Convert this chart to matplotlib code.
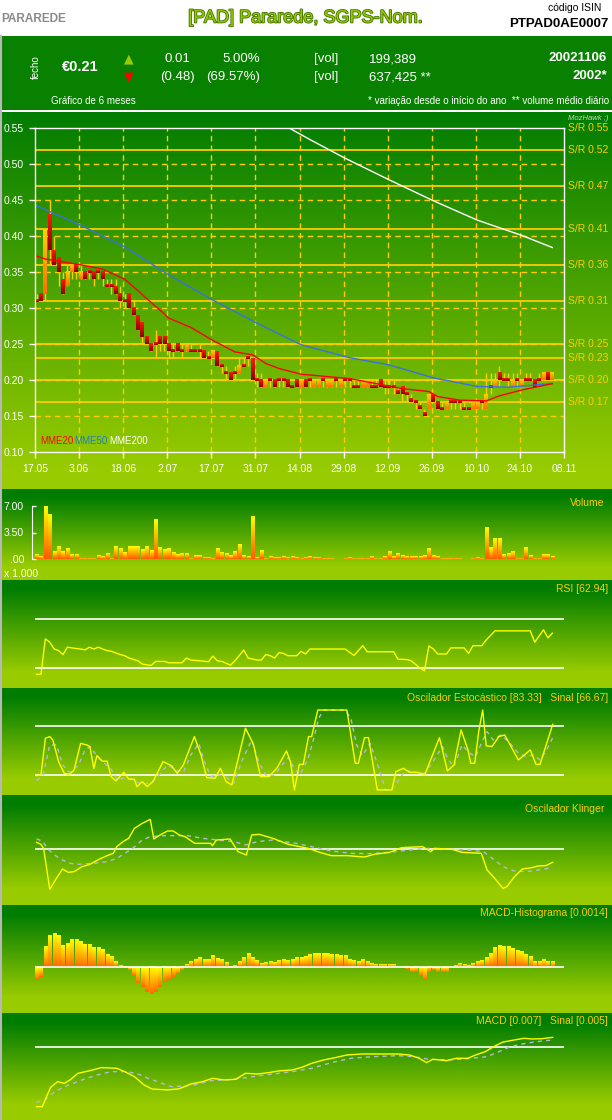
import numpy as np
import matplotlib
matplotlib.use('Agg')
import matplotlib.pyplot as plt
import matplotlib.patheffects as pe
from matplotlib.colors import to_rgb
from matplotlib.lines import Line2D

plt.rcParams['font.family'] = ['Liberation Sans Narrow', 'Liberation Sans', 'DejaVu Sans']

W, H = 612, 1120

# ---- price data (daily candles, 17.05 -> 06.11) ----
opens = [0.31, 0.32, 0.32, 0.43, 0.38, 0.37, 0.34, 0.33, 0.35, 0.36,
         0.34, 0.35, 0.35, 0.35, 0.35, 0.35, 0.33, 0.33, 0.33, 0.32,
         0.31, 0.32, 0.30, 0.29, 0.28, 0.26, 0.25, 0.25, 0.26, 0.26,
         0.25, 0.24, 0.25, 0.24, 0.24, 0.24, 0.24, 0.24, 0.24, 0.23,
         0.23, 0.24, 0.22, 0.21, 0.21, 0.21, 0.21, 0.22, 0.23, 0.23,
         0.20, 0.20, 0.19, 0.20, 0.20, 0.20, 0.20, 0.20, 0.19, 0.20,
         0.19, 0.20, 0.20, 0.19, 0.19, 0.20, 0.19, 0.19, 0.20, 0.19,
         0.20, 0.20, 0.19, 0.19, 0.19, 0.19, 0.19, 0.19, 0.20, 0.19,
         0.19, 0.19, 0.185, 0.19, 0.18, 0.175, 0.17, 0.165, 0.155, 0.16,
         0.18, 0.17, 0.16, 0.16, 0.17, 0.17, 0.17, 0.16, 0.16, 0.16,
         0.16, 0.17, 0.16, 0.19, 0.19, 0.21, 0.20, 0.20, 0.19, 0.20,
         0.19, 0.20, 0.20, 0.20, 0.20, 0.20, 0.21, 0.20]
closes = [0.31, 0.31, 0.41, 0.38, 0.36, 0.35, 0.32, 0.35, 0.36, 0.35,
          0.35, 0.34, 0.35, 0.34, 0.35, 0.34, 0.33, 0.33, 0.32, 0.31,
          0.31, 0.30, 0.29, 0.27, 0.26, 0.25, 0.24, 0.25, 0.25, 0.25,
          0.24, 0.24, 0.24, 0.24, 0.25, 0.24, 0.24, 0.24, 0.23, 0.23,
          0.24, 0.22, 0.22, 0.21, 0.20, 0.21, 0.22, 0.22, 0.23, 0.20,
          0.20, 0.19, 0.20, 0.20, 0.19, 0.20, 0.20, 0.19, 0.19, 0.19,
          0.20, 0.19, 0.20, 0.20, 0.20, 0.20, 0.20, 0.20, 0.20, 0.20,
          0.20, 0.20, 0.19, 0.19, 0.20, 0.20, 0.19, 0.19, 0.19, 0.19,
          0.19, 0.19, 0.18, 0.18, 0.18, 0.17, 0.17, 0.16, 0.15, 0.18,
          0.17, 0.16, 0.16, 0.17, 0.17, 0.17, 0.17, 0.16, 0.16, 0.17,
          0.17, 0.17, 0.18, 0.19, 0.20, 0.20, 0.20, 0.20, 0.20, 0.20,
          0.20, 0.20, 0.20, 0.19, 0.20, 0.21, 0.20, 0.21]
highs = [0.32, 0.32, 0.41, 0.45, 0.40, 0.37, 0.35, 0.36, 0.36, 0.36,
         0.36, 0.35, 0.35, 0.35, 0.35, 0.35, 0.34, 0.34, 0.34, 0.33,
         0.32, 0.32, 0.31, 0.29, 0.28, 0.26, 0.25, 0.27, 0.26, 0.26,
         0.25, 0.25, 0.25, 0.25, 0.25, 0.25, 0.24, 0.25, 0.24, 0.24,
         0.24, 0.24, 0.22, 0.22, 0.21, 0.22, 0.23, 0.23, 0.23, 0.23,
         0.21, 0.21, 0.20, 0.20, 0.20, 0.20, 0.20, 0.20, 0.19, 0.20,
         0.20, 0.20, 0.20, 0.20, 0.20, 0.20, 0.20, 0.20, 0.20, 0.20,
         0.20, 0.20, 0.20, 0.20, 0.20, 0.20, 0.20, 0.20, 0.20, 0.20,
         0.20, 0.20, 0.19, 0.19, 0.18, 0.18, 0.17, 0.17, 0.16, 0.18,
         0.18, 0.17, 0.17, 0.17, 0.17, 0.17, 0.17, 0.17, 0.16, 0.17,
         0.17, 0.17, 0.21, 0.21, 0.21, 0.22, 0.21, 0.21, 0.21, 0.21,
         0.20, 0.21, 0.21, 0.20, 0.21, 0.21, 0.21, 0.21]
lows = [0.31, 0.31, 0.31, 0.36, 0.36, 0.33, 0.32, 0.33, 0.34, 0.34,
        0.34, 0.34, 0.34, 0.33, 0.34, 0.33, 0.33, 0.32, 0.32, 0.30,
        0.30, 0.30, 0.29, 0.27, 0.25, 0.25, 0.24, 0.23, 0.24, 0.24,
        0.23, 0.23, 0.24, 0.23, 0.24, 0.24, 0.24, 0.23, 0.23, 0.23,
        0.23, 0.22, 0.21, 0.20, 0.20, 0.20, 0.21, 0.22, 0.22, 0.20,
        0.19, 0.19, 0.19, 0.19, 0.19, 0.19, 0.19, 0.19, 0.19, 0.19,
        0.19, 0.19, 0.19, 0.19, 0.19, 0.19, 0.19, 0.19, 0.19, 0.19,
        0.19, 0.19, 0.19, 0.19, 0.19, 0.19, 0.19, 0.19, 0.19, 0.18,
        0.19, 0.18, 0.18, 0.17, 0.17, 0.17, 0.16, 0.16, 0.15, 0.16,
        0.17, 0.16, 0.16, 0.16, 0.16, 0.16, 0.16, 0.16, 0.16, 0.16,
        0.16, 0.16, 0.16, 0.18, 0.19, 0.19, 0.20, 0.19, 0.19, 0.19,
        0.19, 0.20, 0.20, 0.19, 0.20, 0.20, 0.20, 0.20]

date_labels = ['17.05', '3.06', '18.06', '2.07', '17.07', '31.07', '14.08',
               '29.08', '12.09', '26.09', '10.10', '24.10', '08.11']
price_ticks = [0.10, 0.15, 0.20, 0.25, 0.30, 0.35, 0.40, 0.45, 0.50, 0.55]
sr_levels = [0.55, 0.52, 0.47, 0.41, 0.36, 0.31, 0.25, 0.23, 0.20, 0.17]

mme20_days = [0, 2, 5, 10, 15, 20, 23, 25, 28, 30, 35, 40, 45, 49, 52, 55, 60,
              71, 83, 89, 91, 96, 102, 105, 110, 117]
mme20_vals = [0.372, 0.368, 0.365, 0.360, 0.354, 0.340, 0.324, 0.313, 0.297, 0.286,
              0.273, 0.255, 0.239, 0.235, 0.223, 0.216, 0.208,
              0.202, 0.188, 0.184, 0.177, 0.172, 0.171, 0.178, 0.186, 0.195]
mme50_days = [0, 10, 20, 30, 40, 50, 60, 71, 80, 90, 100, 107, 113, 117]
mme50_vals = [0.442, 0.415, 0.385, 0.346, 0.311, 0.279, 0.249, 0.231, 0.221, 0.203,
              0.191, 0.190, 0.193, 0.195]
mme200_days = [57, 62, 70, 80, 90, 100, 110, 117]
mme200_vals = [0.551, 0.534, 0.508, 0.478, 0.449, 0.422, 0.401, 0.384]

# ---- volume (x 1.000) ----
volume = [0.6, 0.3, 7.0, 5.9, 1.0, 1.6, 1.0, 1.4, 0.6, 0.6,
          0.1, 0.1, 0.1, 0.1, 0.4, 0.3, 0.7, 0.1, 1.7, 1.4,
          0.9, 1.6, 1.7, 1.7, 1.2, 1.7, 1.1, 5.2, 1.5, 1.2,
          1.4, 0.9, 0.6, 0.7, 0.7, 0.1, 0.4, 0.4, 0.2, 0.2,
          0.1, 1.4, 0.9, 0.7, 0.4, 1.0, 1.9, 0.4, 0.3, 5.6,
          0.2, 1.1, 0.1, 0.3, 0.2, 0.2, 0.3, 0.2, 0.3, 0.2,
          0.1, 0.2, 0.3, 0.2, 0.2, 0.1, 0.1, 0.1, 0.0, 0.0,
          0.1, 0.2, 0.1, 0.1, 0.1, 0.1, 0.3, 0.1, 0.1, 0.3,
          1.0, 0.3, 0.7, 0.4, 0.3, 0.3, 0.3, 0.3, 0.4, 1.4,
          0.5, 0.35, 0.1, 0.1, 0.1, 0.1, 0.1, 0.0, 0.0, 0.1,
          0.2, 0.1, 4.2, 1.5, 2.7, 2.7, 0.6, 0.7, 1.0, 0.1,
          0.1, 1.5, 0.4, 0.1, 0.1, 0.6, 0.6, 0.3]

# ---- RSI ----
rsi_days = [0, 1, 2, 3, 4, 5, 6, 7, 8, 10, 11, 12, 13, 14, 15, 16, 17, 19, 20, 21,
            23, 24, 26, 27, 29, 30, 33, 34, 35, 37, 39, 40, 41, 42, 44, 45, 46, 47,
            48, 50, 51, 52, 53, 54, 55, 56, 57, 59, 60, 61, 62, 70, 72, 74, 75, 81,
            82, 84, 85, 87, 88, 89, 90, 91, 93, 94, 97, 98, 99, 101, 102, 104, 112,
            113, 115, 116, 117]
rsi_vals = [25.0, 25.1, 53.7, 51.0, 45.5, 44.2, 41.0, 47.0, 46.4, 45.5, 44.8, 47.0,
            45.5, 47.0, 45.5, 44.2, 43.6, 41.0, 40.1, 38.2, 36.0, 33.3, 32.2, 35.5,
            35.5, 34.4, 34.4, 38.2, 36.6, 36.0, 35.2, 39.8, 36.0, 35.5, 32.5, 36.0,
            40.3, 44.7, 38.2, 36.6, 36.6, 41.0, 40.1, 38.2, 42.6, 42.0, 40.1, 40.1,
            43.6, 41.5, 45.5, 45.5, 40.3, 48.2, 43.3, 43.3, 37.3, 37.0, 36.0, 30.0,
            27.8, 48.0, 45.5, 41.5, 41.5, 46.4, 46.4, 42.0, 48.2, 48.2, 52.8, 60.2,
            60.2, 51.0, 61.0, 54.5, 58.3]

# ---- Stochastic ----
stoch_days = [0, 1, 2, 3, 3.7, 5, 6.3, 7.5, 8.5, 10, 11.4, 12.1, 13, 13.7, 14.9, 16,
              16.9, 18, 19.8, 20.9, 22.2, 22.8, 24, 25.1, 26.4, 28.7, 30.6, 31.9,
              33.3, 35.8, 37.3, 38.6, 40.5, 41.7, 43, 44.3, 47.4, 49.2, 50.8, 52.7,
              54.5, 56.7, 57.6, 58.5, 59.6, 60.5, 61.7, 62.4, 63.8, 70.4, 72.3, 73,
              74.4, 75.3, 77.3, 80.6, 81.5, 83.2, 84.6, 86.3, 88.1, 91.4, 93.2, 94.7,
              96.3, 97.8, 98.5, 99.4, 100.3, 101.2, 102, 103.3, 104.9, 106.2, 109.3,
              112, 113.3, 114.2, 117.1]
stoch_vals = [19.2, 20, 65.2, 67.3, 63, 36.4, 22, 20.8, 26, 59, 57, 55, 28, 43.8, 37,
              37, 18, 12.6, 23.3, 15, 14.6, 5.6, 11.8, 5.6, 11.8, 36.4, 31.5, 22,
              32.3, 67.3, 44.7, 16.7, 16, 28.2, 11.8, 7.7, 77.5, 57.8, 18, 18, 28.2,
              49.6, 36.4, 1.5, 33, 33, 67.3, 67.3, 100, 100, 34.4, 34.4, 66, 66, 1.5,
              1.5, 24, 28.2, 23.3, 23.3, 20.8, 66, 25, 32.3, 75.5, 52, 34.4, 34.4,
              73.4, 100, 56, 55, 67.3, 69.3, 38.5, 50.8, 33, 33, 82.5]
stoch_sig_days = [0, 1.5, 3, 4.5, 6, 7.5, 9.5, 11, 12.2, 13.8, 15.4, 16.9, 18.3, 20,
                  21.8, 24, 26.2, 28, 29.7, 31.5, 33.3, 35, 36.8, 38.1, 39.5, 41.2, 43,
                  44.8, 46.5, 48.8, 50.5, 52.3, 54, 55.4, 57.1, 58.7, 59.8, 61.6, 62.9,
                  64, 65.1, 70, 71.3, 72.6, 73.9, 75.7, 77.5, 79.2, 80.6, 81.9, 83.7,
                  85.4, 88.1, 89.9, 92.1, 93.4, 94.7, 96.5, 98.3, 99.6, 100.9, 102.2,
                  103.6, 105.3, 107.1, 109.3, 111, 112.8, 114.2, 115.5, 117.1]
stoch_sig_vals = [13, 20, 57, 57, 32, 23, 32, 51, 55, 42.6, 34.4, 27.4, 14, 16.7, 14,
                  8.5, 11, 21, 32.3, 26, 23.3, 44.7, 59, 36.4, 18, 20, 18, 9.7, 36.4,
                  63, 34.4, 18, 20, 30.3, 41.4, 26, 20, 40.5, 65.2, 89.9, 100, 100,
                  89.9, 57, 43.8, 59, 30.3, 1.5, 1.5, 11.8, 26, 23.3, 22, 36.4, 55,
                  38.5, 30.3, 57, 46.7, 42.6, 59, 73.4, 63, 69.3, 61, 46.7, 42.6, 44.7,
                  38.5, 48.8, 66]

# ---- Klinger ----
kl_days = [0, 1, 1.6, 3, 4.5, 5.9, 7.2, 8.5, 10.3, 12.1, 14.3, 16, 17.4, 18.2, 19.6,
           20.9, 22.2, 24, 25.8, 26.6, 28, 29.7, 31, 32.4, 33.7, 35.9, 39.5, 39.9,
           40.8, 43.9, 45.7, 47.6, 48.8, 50.5, 53.6, 57.1, 61.6, 64.2, 66.9, 70.4,
           74.4, 76.6, 80.1, 82.8, 87.6, 89.4, 90.3, 94.3, 96.5, 100.9, 102.2, 103.8,
           105.8, 106.7, 108.4, 110.2, 112.4, 113.7, 115.5, 117.1]
kl_vals = [2.0, 1.4, 0.2, -12.1, -8.8, -6.0, -7.0, -6.8, -5.3, -4.6, -3.0, -2.0, -1.3,
           0.7, 2.2, 3.2, 6.2, 7.7, 8.9, 3.0, 4.2, 5.4, 5.4, 4.2, 3.7, 1.7, 1.7, 1.0,
           2.7, 3.0, -0.8, -1.8, 4.2, 4.4, 3.2, 1.4, 0.2, -1.0, -2.0, -2.0, -2.4, -1.6,
           -1.0, 0.4, 0.7, -0.8, 0.2, -0.1, -1.0, -1.3, -6.3, -8.6, -11.8, -11.3, -8.3,
           -6.0, -5.6, -5.1, -5.0, -4.0]
kl_sig_days = [0, 1.3, 2.8, 4.1, 5.4, 7.6, 9.4, 12.9, 16, 18.2, 20, 21.8, 24, 25.8,
               28.9, 34.2, 37.7, 41.2, 44.8, 47.4, 50.1, 53.6, 58.9, 62.4, 66.9, 71.3,
               75.7, 80.1, 84.6, 89, 93.4, 97.8, 101.4, 103.6, 105.8, 108.4, 111,
               113.7, 117.1]
kl_sig_vals = [3.0, 2.4, -0.3, -1.8, -3.0, -4.3, -4.6, -4.3, -3.8, -2.8, -1.3, 0.2, 2.7,
               3.7, 4.0, 4.0, 3.2, 2.7, 2.2, 1.2, 2.2, 2.7, 1.7, 0.7, -0.6, -1.3, -1.4,
               -1.0, -0.3, 0.2, -0.1, -0.3, -0.8, -3.0, -5.3, -6.6, -6.8, -6.3, -5.6]

# ---- MACD histogram (x 1e-4) ----
macd_hist = [-38, -29, 63, 96, 101, 94, 66, 72, 84, 82,
             78, 69, 69, 60, 60, 54, 39, 33, 18, 6,
             -4, -9, -27, -47, -59, -74, -82, -74, -60, -46,
             -39, -31, -21, -10, 9, 16, 22, 28, 24, 24,
             36, 26, 24, 14, 2, 6, 16, 28, 42, 30,
             21, 10, 14, 16, 13, 21, 24, 21, 22, 30,
             28, 32, 38, 42, 42, 42, 42, 39, 38, 36,
             36, 24, 20, 16, 24, 16, 11, 8, 8, 8,
             8, 8, 0, -4, -7, -14, -16, -26, -38, -16,
             -9, -14, -14, -14, 0, 6, 11, 8, 6, 12,
             18, 20, 30, 42, 58, 64, 62, 62, 56, 51,
             46, 38, 31, 18, 16, 22, 16, 16]

# ---- MACD (x 1e-3) ----
macd_days = [0, 1.3, 2.2, 3.2, 4.8, 6.3, 7.6, 9.4, 12.1, 14.7, 18.2, 20, 22.2, 24.4,
             26.2, 29.7, 32.4, 35, 37.7, 39.9, 42.6, 45.2, 47.4, 50.1, 52.7, 54.9, 58,
             60.2, 62.4, 65.1, 67.8, 70.4, 73.9, 81.9, 84.6, 86.8, 88.5, 89.9, 93,
             95.2, 97.8, 99.6, 101.8, 104, 105.8, 108.4, 110.6, 112.4, 114.6, 117.1]
macd_vals = [-42.7, -42.7, -36, -28.8, -24.7, -25.9, -23.5, -18.7, -16.8, -14.6, -15.1,
             -17.5, -21.1, -27.1, -30, -30.7, -29.8, -26.4, -24.7, -22.3, -23.5, -23,
             -18.7, -19.2, -18.2, -17, -16.3, -14.4, -11.5, -9.1, -7.4, -5.5, -4.8,
             -4.8, -5.5, -7.9, -11, -8.6, -9.6, -7.9, -7.9, -5.5, -3.1, 1, 3.8, 5.3,
             6.5, 6, 6.2, 7.2]
macd_sig_days = [0, 1.9, 4.1, 6.8, 10.3, 13.8, 16.9, 20, 22.7, 25.3, 28, 30.6, 33.3,
                 35.9, 39.5, 43, 46.5, 50.1, 53.6, 58, 62.4, 66.9, 71.3, 76.6, 81.9,
                 85.4, 89, 93.4, 97.8, 102.2, 104.9, 107.5, 110.2, 112.8, 115.5, 117.1]
macd_sig_vals = [-39.6, -37.9, -31.9, -27.8, -23.5, -19.9, -17.5, -17.5, -18.7, -22.3,
                 -25.4, -28.3, -27.8, -27.1, -24, -23.5, -22.3, -20.6, -19.2, -17.5,
                 -15.1, -11, -7.9, -6.7, -6, -6.7, -8.6, -9.1, -8.2, -6.7, -3.1, 0.5,
                 2.4, 3.8, 4.8, 5.3]

days = np.arange(len(closes))
XL = (-0.35, 119.65)
tick_pos = np.arange(len(date_labels)) * 10 - 0.35
ORANGE = '#ffcc00'
YELLOW = '#ffff00'
SIGNAL = '#b8b8dc'

fig = plt.figure(figsize=(W / 100, H / 100), dpi=100)


def fx(x):
    return x / W


def fy(y):
    return 1 - y / H


def add_panel(top, bottom, left=35, right=564):
    a = fig.add_axes([fx(left), fy(bottom), (right - left) / W, (bottom - top) / H])
    a.set_facecolor('none')
    return a


def grad_bar(a, x, y0, y1, w, top, bottom):
    lo, hi = min(y0, y1), max(y0, y1)
    t = np.linspace(0, 1, 32)[:, None]
    img = np.array(to_rgb(top)) * (1 - t) + np.array(to_rgb(bottom)) * t
    a.imshow(img[:, None, :], extent=(x - w / 2, x + w / 2, lo, hi), aspect='auto',
             origin='upper', interpolation='bilinear', zorder=3)


# background bands
dark = np.array([0, 124, 0]) / 255
light = np.array([153, 204, 0]) / 255
bg = np.ones((H, 1, 3))
rows = np.arange(H)


def fill_grad(top, bottom, g0, g1):
    t = np.clip((rows[top:bottom] - g0) / (g1 - g0), 0, 1)[:, None]
    bg[top:bottom, 0, :] = dark * (1 - t) + light * t


bg[36:110, 0, :] = np.array([8, 128, 0]) / 255
fill_grad(112, 489, 112, 470)
for top, bottom in [(489, 580), (580, 688), (688, 795), (795, 905), (905, 1013), (1013, 1120)]:
    h = bottom - top
    fill_grad(top, bottom, top + 0.08 * h, top + 0.85 * h)
bgax = fig.add_axes([0, 0, 1, 1], zorder=-10)
bgax.imshow(bg, aspect='auto', extent=(0, 1, 0, 1), interpolation='nearest')
bgax.axis('off')
fig.add_artist(Line2D([fx(0.7), fx(0.7)], [0, fy(36)], color='#b8b8b8', lw=1.5))

# ---- header ----
fig.text(fx(1), fy(19), 'PARAREDE', color='#8a8a8a', fontsize=8.5, fontweight='bold', va='center')
fig.text(fx(305), fy(18), '[PAD] Pararede, SGPS-Nom.', color='#99cc00', fontsize=13,
         ha='center', va='center',
         path_effects=[pe.withStroke(linewidth=1.2, foreground='#3d7000')])
fig.text(fx(601), fy(8), 'código ISIN', color='black', fontsize=7.5, ha='right', va='center')
fig.text(fx(609), fy(24), 'PTPAD0AE0007', color='black', fontsize=9.5, fontweight='bold',
         ha='right', va='center')

fig.text(fx(36), fy(67), 'fecho', color='white', fontsize=7, rotation=90, ha='center', va='center')
fig.text(fx(62), fy(67), '€0.21', color='white', fontsize=10.5, fontweight='bold', va='center')
fig.text(fx(129), fy(59), '▲', color='#99cc00', fontsize=9, ha='center', va='center',
         family='DejaVu Sans')
fig.text(fx(129), fy(77), '▼', color='#ff0000', fontsize=9, ha='center', va='center',
         family='DejaVu Sans')
fig.text(fx(190), fy(59), '0.01', color='white', fontsize=9.5, ha='right', va='center')
fig.text(fx(260), fy(59), '5.00%', color='white', fontsize=9.5, ha='right', va='center')
fig.text(fx(195), fy(77), '(0.48)', color='white', fontsize=9.5, ha='right', va='center')
fig.text(fx(260), fy(77), '(69.57%)', color='white', fontsize=9.5, ha='right', va='center')
fig.text(fx(314), fy(59), '[vol]', color='white', fontsize=9.5, va='center')
fig.text(fx(314), fy(77), '[vol]', color='white', fontsize=9.5, va='center')
fig.text(fx(369), fy(59), '199,389', color='white', fontsize=9.5, va='center')
fig.text(fx(369), fy(77), '637,425 **', color='white', fontsize=9.5, va='center')
fig.text(fx(607), fy(58), '20021106', color='white', fontsize=9.5, fontweight='bold',
         ha='right', va='center')
fig.text(fx(607), fy(76), '2002*', color='white', fontsize=9.5, fontweight='bold',
         ha='right', va='center')
fig.text(fx(51), fy(101), 'Gráfico de 6 meses', color='white', fontsize=7, va='center')
fig.text(fx(609), fy(101), '* variação desde o início do ano  ** volume médio diário',
         color='white', fontsize=7, ha='right', va='center')

# ---- main price chart ----
ax = add_panel(128, 452)
for p in tick_pos[1:-1]:
    ax.axvline(p, color=ORANGE, lw=1, ls=(0, (4, 3)), zorder=1)
for lv in price_ticks[1:-1]:
    ax.axhline(lv, color=ORANGE, lw=1, ls=(0, (4, 3)), zorder=1)
for lv in sr_levels:
    ax.axhline(lv, color=ORANGE, lw=1.3, zorder=1.5)
    ax.annotate(f'S/R {lv:.2f}', xy=(1, lv), xycoords=('axes fraction', 'data'),
                xytext=(3, 0), textcoords='offset points', color=ORANGE, fontsize=7.5,
                va='center', annotation_clip=False)

ax.vlines(days, lows, highs, color=ORANGE, lw=1, zorder=2)
for d, o, c in zip(days, opens, closes):
    lo, hi = min(o, c), max(o, c)
    if hi - lo < 0.003:
        lo, hi = c - 0.0015, c + 0.0015
    if c > o:
        grad_bar(ax, d, lo, hi, 0.85, '#ffd000', '#ff7000')
    else:
        grad_bar(ax, d, lo, hi, 0.85, '#ff1a00', '#8c0000')

ax.plot(mme200_days, mme200_vals, color='white', lw=1, zorder=4)
ax.plot(mme50_days, mme50_vals, color='#3b6fe6', lw=1, zorder=4)
ax.plot(mme20_days, mme20_vals, color='#ff0000', lw=1, zorder=4)

ax.text(0.009, 0.034, 'MME20', color='#ff0000', fontsize=7, transform=ax.transAxes, va='center')
ax.text(0.075, 0.034, 'MME50', color='#1a7fc0', fontsize=7, transform=ax.transAxes, va='center')
ax.text(0.141, 0.034, 'MME200', color='white', fontsize=7, transform=ax.transAxes, va='center')
fig.text(fx(608), fy(118), 'MozHawk ;)', color='#c8dcb4', fontsize=5.5, style='italic',
         ha='right', va='center')

ax.set_xlim(XL)
ax.set_ylim(0.10, 0.55)
ax.set_xticks(tick_pos)
ax.set_xticklabels(date_labels)
ax.set_yticks(price_ticks)
ax.set_yticklabels([f'{v:.2f}' for v in price_ticks])
ax.tick_params(colors='white', labelsize=7.5, length=4, width=1, direction='out')
ax.tick_params(axis='x', pad=5)
ax.tick_params(axis='y', pad=4)
for s in ax.spines.values():
    s.set_color('white')
    s.set_linewidth(1)
    s.set_zorder(5)

# ---- volume ----
av = add_panel(506, 559)
for d, v in zip(days, volume):
    if v > 0:
        grad_bar(av, d, 0, v, 0.7, '#ffff00', '#ff5a00')
av.set_xlim(XL)
av.set_ylim(0, 7)
av.set_xticks([])
av.set_yticks([0, 3.5, 7])
av.set_yticklabels(['.00', '3.50', '7.00'])
av.tick_params(colors='white', labelsize=7.5, length=3, width=1, direction='in', pad=6)
for k in ['top', 'right', 'bottom']:
    av.spines[k].set_visible(False)
av.spines['left'].set_color('white')
av.spines['left'].set_position(('outward', 2))
fig.text(fx(4), fy(574), 'x 1.000', color='white', fontsize=7.5, va='center')
fig.text(fx(604), fy(503), 'Volume', color=ORANGE, fontsize=7.5, ha='right', va='center')

# ---- RSI ----
ar = add_panel(580, 688)
ar.axhline(70, color='white', lw=1.2)
ar.axhline(30, color='white', lw=1.2)
ar.plot(rsi_days, rsi_vals, color=YELLOW, lw=1)
ar.set_xlim(XL)
ar.set_ylim(14.0, 101.3)
ar.axis('off')
fig.text(fx(608), fy(589), 'RSI [62.94]', color=ORANGE, fontsize=7.5, ha='right', va='center')

# ---- Stochastic ----
ast = add_panel(688, 795)
ast.axhline(80, color='white', lw=1.2)
ast.axhline(20, color='white', lw=1.2)
ast.plot(stoch_sig_days, stoch_sig_vals, color=SIGNAL, lw=1, ls=(0, (3, 3)))
ast.plot(stoch_days, stoch_vals, color=YELLOW, lw=1)
ast.set_xlim(XL)
ast.set_ylim(-4.7, 127.2)
ast.axis('off')
fig.text(fx(608), fy(698), 'Oscilador Estocástico [83.33]   Sinal [66.67]', color=ORANGE,
         fontsize=7.5, ha='right', va='center')

# ---- Klinger ----
ak = add_panel(795, 905)
ak.axhline(0, color='white', lw=1.2)
ak.plot(kl_sig_days, kl_sig_vals, color=SIGNAL, lw=1, ls=(0, (3, 3)))
ak.plot(kl_days, kl_vals, color=YELLOW, lw=1)
ak.set_xlim(XL)
ak.set_ylim(-16.8, 16.2)
ak.axis('off')
fig.text(fx(604), fy(809), 'Oscilador Klinger', color=ORANGE, fontsize=7.5, ha='right', va='center')

# ---- MACD histogram ----
ah = add_panel(905, 1013)
for d, v in zip(days, macd_hist):
    if v != 0:
        grad_bar(ah, d, 0, v, 0.7, '#ffff00', '#ff6a00')
ah.axhline(0, color='white', lw=1.2, zorder=4)
ah.set_xlim(XL)
ah.set_ylim(-138, 186)
ah.axis('off')
fig.text(fx(608), fy(913), 'MACD-Histograma [0.0014]', color=ORANGE, fontsize=7.5,
         ha='right', va='center')

# ---- MACD ----
am = add_panel(1013, 1120)
am.axhline(0, color='white', lw=1.2)
am.plot(macd_sig_days, macd_sig_vals, color=SIGNAL, lw=1, ls=(0, (3, 3)))
am.plot(macd_days, macd_vals, color=YELLOW, lw=1)
am.set_xlim(XL)
am.set_ylim(-52.3, 24.7)
am.axis('off')
fig.text(fx(608), fy(1021), 'MACD [0.007]   Sinal [0.005]', color=ORANGE, fontsize=7.5,
         ha='right', va='center')

fig.savefig('out.png', dpi=100)
